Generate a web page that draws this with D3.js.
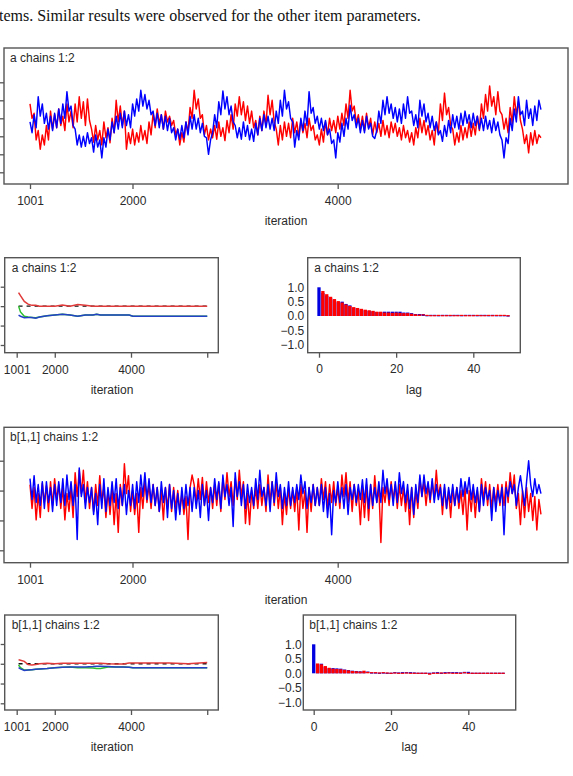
<!DOCTYPE html>
<html><head><meta charset="utf-8">
<script src="https://cdn.jsdelivr.net/npm/d3@7"></script>
<style>body{margin:0;background:#fff;}svg{display:block;}</style>
</head><body>
<svg id="c" width="573" height="776"></svg>
<script>
// ---------------- DATA ----------------
const introText = "tems. Similar results were observed for the other item parameters.";
const parA = "a chains 1:2";
const parB = "b[1,1] chains 1:2";
const traceStart = 1001, traceStep = 20;   // sampled iteration of each stored trace value

const aRed = [
1.45,1.25,1.32,0.95,1.08,0.82,1.02,0.88,1.15,0.95, 1.35,1.10,1.30,1.12,1.38,1.15,1.28,1.08,1.45,1.20,
1.35,1.12,1.45,1.20,1.55,1.25,1.48,1.15,1.52,1.22, 1.10,0.92,1.15,0.95,1.08,0.88,1.20,0.98,1.12,0.91,
1.25,1.05,1.50,1.20,1.42,1.15,1.35,0.82,1.05,0.90, 1.10,0.88,1.05,0.92,1.15,0.95,1.08,0.90,1.20,1.02,
1.32,1.12,1.38,1.18,1.30,1.10,1.35,1.20,1.28,1.15, 1.22,1.02,1.10,0.88,1.05,0.92,1.20,1.05,1.40,1.25,
1.64,1.38,1.52,1.25,1.30,1.02,1.15,0.95,1.10,0.98, 1.15,0.96,1.20,1.00,1.12,0.94,1.22,1.05,1.30,1.10,
1.45,1.28,1.55,1.30,1.48,1.22,1.42,1.18,1.35,1.12, 1.22,1.02,1.28,1.08,1.35,1.15,1.57,1.30,1.50,1.20,
1.10,0.88,1.15,0.95,1.20,1.00,1.18,0.98,1.25,1.05, 1.20,1.00,1.22,1.05,1.18,0.98,1.25,1.08,1.15,0.95,
1.02,0.88,1.10,0.92,1.20,1.02,1.25,1.08,1.22,1.05, 1.28,1.10,1.32,1.15,1.45,1.25,1.64,1.35,1.42,1.18,
1.30,1.10,1.28,1.08,1.32,1.12,1.25,1.02,1.20,1.05, 1.18,1.00,1.22,1.02,1.15,0.98,1.20,1.05,1.18,1.00,
1.12,0.95,1.15,0.98,1.08,0.92,1.05,0.88,1.12,0.98, 1.25,1.05,1.22,1.02,1.15,0.95,1.08,0.88,1.20,1.05,
1.45,1.22,1.60,1.30,1.40,1.15,1.10,0.88,1.05,0.92, 1.15,0.95,1.12,0.98,1.20,1.00,1.18,1.02,1.28,1.08,
1.45,1.25,1.58,1.35,1.70,1.42,1.55,1.30,1.62,1.35, 1.30,1.10,1.25,1.05,1.40,1.18,1.55,1.30,1.48,1.22,
1.10,0.90,1.02,0.77,1.05,0.88,1.08,0.90,1.02,0.98];
const aBlue = [
1.20,1.05,1.30,1.12,1.55,1.28,1.45,1.18,1.32,1.10, 1.28,1.08,1.32,1.12,1.38,1.18,1.45,1.25,1.62,1.35,
1.42,1.15,1.10,0.88,1.02,0.85,1.00,0.86,1.05,0.90, 0.98,0.78,1.02,0.85,0.95,0.70,0.98,0.85,1.10,0.95,
1.20,1.05,1.28,1.10,1.32,1.12,1.35,1.15,1.30,1.12, 1.45,1.28,1.52,1.35,1.64,1.42,1.58,1.38,1.50,1.30,
1.35,1.15,1.32,1.12,1.30,1.10,1.28,1.08,1.25,1.05, 1.12,0.95,1.10,0.96,1.15,0.98,1.20,1.02,1.28,1.10,
1.30,1.10,1.25,1.05,1.18,1.00,0.98,0.75,0.95,1.05, 1.30,1.12,1.48,1.30,1.63,1.38,1.55,1.30,1.42,1.20,
1.15,0.98,1.12,0.96,1.20,1.00,1.15,0.95,1.10,0.93, 1.18,1.02,1.25,1.08,1.30,1.12,1.28,1.10,1.25,1.08,
1.35,1.18,1.50,1.28,1.64,1.38,1.48,1.25,1.20,0.85, 1.08,0.95,1.25,1.08,1.35,1.15,1.62,1.32,1.40,1.18,
1.28,1.10,1.25,1.08,1.22,1.02,1.10,0.90,0.95,0.70, 1.05,0.92,1.18,1.00,1.25,1.10,1.43,1.22,1.30,1.12,
1.25,1.05,1.22,1.05,1.28,1.10,1.18,1.00,0.97,1.08, 1.35,1.18,1.50,1.30,1.55,1.32,1.45,1.25,1.40,1.20,
1.38,1.18,1.45,1.25,1.55,1.32,1.35,1.15,1.30,1.12, 1.50,1.28,1.45,1.20,1.32,1.12,1.28,1.08,1.20,1.02,
1.08,0.93,1.15,1.00,1.22,1.05,1.30,1.12,1.28,1.10, 1.32,1.15,1.35,1.18,1.30,1.12,1.32,1.15,1.28,1.10,
1.25,1.08,1.28,1.10,1.22,1.05,1.25,1.08,1.20,1.02, 0.95,0.70,0.98,0.90,1.25,1.08,1.38,1.20,1.55,1.30,
1.35,1.15,1.50,1.25,1.38,1.15,1.42,1.22,1.50,1.37];
const bRed = [
0.10,-0.30,0.05,-0.49,-0.05,-0.45,0.12,-0.20,0.08,-0.35, 0.15,-0.25,0.20,-0.15,0.10,-0.30,0.05,-0.49,-0.05,-0.35,
0.05,-0.45,0.30,-0.10,0.34,-0.05,0.34,-0.20,0.15,-0.30, 0.05,-0.35,0.10,-0.25,0.25,-0.20,0.05,-0.45,0.00,-0.40,
0.05,-0.57,-0.05,-0.70,0.10,-0.25,0.45,-0.05,0.25,-0.35, 0.00,-0.40,-0.05,-0.70,0.05,-0.30,0.15,-0.20,0.10,-0.30,
0.10,-0.25,0.05,-0.35,0.00,-0.49,0.05,-0.30,0.10,-0.35, 0.05,-0.30,0.00,-0.35,-0.05,-0.40,-0.10,-0.82,0.05,0.26,
0.10,-0.20,0.20,-0.15,0.22,-0.25,0.15,-0.20,0.05,-0.30, 0.10,-0.25,0.12,-0.35,0.20,-0.15,0.30,-0.10,0.15,-0.25,
0.20,-0.15,0.34,-0.10,0.15,-0.55,-0.05,-0.57,0.00,-0.30, 0.05,-0.30,0.10,-0.25,0.05,-0.35,0.26,-0.20,0.15,-0.25,
0.15,-0.30,0.05,-0.57,-0.05,-0.40,0.05,-0.30,0.00,-0.35, 0.05,-0.66,0.10,-0.30,0.00,-0.70,0.05,-0.35,0.10,-0.25,
0.05,-0.25,0.20,-0.15,0.15,-0.30,0.10,-0.20,0.15,-0.25, 0.05,-0.30,0.26,-0.10,0.30,-0.20,0.15,-0.35,0.10,-0.25,
0.00,-0.57,0.05,-0.45,0.10,-0.50,0.10,-0.30,0.25,-0.20, 0.05,-0.87,0.05,-0.20,0.10,-0.25,0.15,-0.15,0.10,-0.30,
0.10,-0.25,0.05,-0.35,0.00,-0.57,0.05,-0.45,0.00,-0.30, 0.20,-0.10,0.15,-0.25,0.10,-0.20,0.15,-0.15,0.34,-0.10,
0.10,-0.40,0.05,-0.30,0.00,-0.45,0.05,-0.25,0.05,-0.30, 0.00,-0.40,0.05,-0.66,0.00,-0.35,0.05,-0.45,0.00,-0.35,
0.20,-0.15,0.15,-0.25,0.10,-0.30,0.05,-0.20,0.10,-0.25, 0.10,-0.25,0.15,-0.20,0.30,-0.05,0.26,-0.30,-0.05,-0.57,
0.00,-0.45,0.05,-0.35,-0.05,-0.50,-0.10,-0.66,-0.15,-0.40];
const bBlue = [
0.20,-0.15,0.25,-0.20,0.10,-0.25,0.15,-0.30,0.15,-0.20, 0.05,-0.35,0.10,-0.25,0.15,-0.20,0.20,-0.25,0.26,-0.15,
0.15,-0.25,0.10,-0.82,0.38,-0.10,0.10,-0.30,0.05,-0.20, 0.05,-0.40,-0.05,-0.57,0.10,-0.30,0.20,-0.35,0.05,-0.25,
0.15,-0.20,0.20,-0.30,0.05,-0.25,0.10,-0.40,0.00,-0.25, 0.10,-0.30,0.15,-0.20,0.26,-0.10,0.30,-0.15,0.20,-0.20,
0.10,-0.25,0.05,-0.35,0.15,-0.20,0.05,-0.45,0.10,-0.30, 0.00,-0.49,-0.05,-0.40,0.05,-0.30,0.10,-0.25,0.05,-0.35,
0.05,-0.30,0.00,-0.45,0.10,-0.25,0.00,-0.50,0.05,-0.20, 0.20,-0.15,0.15,-0.30,0.26,-0.10,0.10,-0.25,0.05,-0.60,
0.30,-0.10,0.15,-0.25,0.10,-0.30,0.10,-0.20,0.05,-0.25, 0.20,-0.15,0.34,-0.10,0.05,-0.25,0.10,-0.35,0.15,-0.20,
0.30,-0.10,0.10,-0.30,0.05,-0.25,0.15,-0.25,0.05,-0.20, 0.10,-0.15,0.26,-0.05,0.15,-0.30,0.05,-0.20,0.10,-0.25,
0.05,-0.25,0.10,-0.35,0.05,-0.45,-0.05,-0.74,0.00,-0.20, 0.15,-0.20,0.05,-0.30,0.10,-0.40,0.05,-0.15,0.10,-0.20,
0.10,-0.15,0.18,-0.20,0.20,-0.30,0.10,-0.25,0.05,-0.20, 0.15,-0.20,0.34,-0.05,0.20,-0.15,0.10,-0.25,0.15,-0.20,
0.30,-0.05,0.15,-0.20,0.10,-0.30,0.05,-0.40,0.10,-0.20, 0.26,-0.10,0.26,-0.05,0.15,-0.15,0.20,-0.20,0.10,-0.15,
0.05,-0.25,0.10,-0.30,0.05,-0.20,0.10,-0.25,0.05,-0.20, 0.20,-0.10,0.15,-0.05,0.22,-0.15,0.10,-0.20,0.05,-0.35,
0.10,-0.25,0.05,-0.15,0.00,-0.50,0.05,-0.35,0.00,-0.20, 0.05,-0.74,0.05,-0.10,0.15,-0.05,0.10,-0.25,0.05,0.25,
0.00,-0.25,0.15,0.50,0.10,-0.10,0.20,-0.05,0.10,-0.05];

// Brooks-Gelman-Rubin statistics
const bgrIter = [1050,1100,1200,1300,1400,1500,1600,1800,2000,2200,2400,2600,2800,3000,3100,3200,3400,3600,3800,3950,4050,4500,5000,5500,6000];
const bgrARed   = [1.35,1.27,1.12,1.05,1.02,1.02,1.00,1.00,1.00,1.03,1.00,1.04,1.02,1.00,1.00,1.00,1.00,1.00,1.00,1.00,1.00,1.00,1.00,1.00,1.00];
const bgrAGreen = [1.00,0.85,0.74,0.72,0.71,0.70,0.72,0.75,0.77,0.79,0.77,0.74,0.77,0.77,0.79,0.77,0.77,0.77,0.77,0.77,0.74,0.74,0.74,0.74,0.74];
const bgrABlue  = [0.77,0.74,0.70,0.71,0.71,0.69,0.72,0.75,0.77,0.79,0.77,0.74,0.77,0.77,0.79,0.77,0.77,0.77,0.77,0.77,0.74,0.74,0.74,0.74,0.74];
const bgrBRed   = [1.10,1.09,1.06,0.98,0.97,0.98,1.00,1.01,1.00,1.015,1.01,1.01,1.01,1.01,1.01,1.01,1.00,0.995,0.995,1.02,1.02,1.02,1.02,1.00,1.03];
const bgrBGreen = [0.97,0.90,0.84,0.84,0.85,0.86,0.87,0.88,0.90,0.91,0.92,0.90,0.90,0.89,0.88,0.88,0.92,0.92,0.92,0.91,0.90,0.90,0.90,0.90,0.90];
const bgrBBlue  = [0.90,0.87,0.83,0.84,0.85,0.86,0.87,0.88,0.90,0.91,0.92,0.92,0.92,0.93,0.94,0.94,0.93,0.92,0.92,0.91,0.90,0.90,0.90,0.90,0.90];
const bgrRef = 1.0;

// Autocorrelations: blue chain lags 0..49, red chain lags 1..49
const acfABlue = [1.00,
 0.80,0.70,0.62,0.55,0.48,0.50,0.42,0.37,0.28,0.25,0.22,0.20,0.18,0.16,0.14,0.13,
 0.15,0.15,0.15,0.15,0.15,0.12,0.12,0.10,0.07,0.07,0.07,
 0.01,0.02,0.02,0.01,0.02,0.02,0.01,0.02,0.02,0.01,0.02,0.02,0.02,0.01,0.02,0.02,0.01,0.02,0.01,0.01,0.01,0.00];
const acfARed = [
 0.87,0.76,0.67,0.59,0.52,0.47,0.40,0.35,0.31,0.28,0.25,0.22,0.20,0.18,0.15,0.15,
 0.12,0.12,0.11,0.12,0.11,0.10,0.10,0.08,0.06,0.05,0.04,
 0.02,0.01,0.01,0.02,0.01,0.01,0.02,0.01,0.01,0.02,0.01,0.01,0.01,0.02,0.01,0.01,0.02,0.01,0.02,0.02,0.02,0.01];
const acfBBlue = [1.00,
 0.30,0.33,0.22,0.17,0.18,0.17,0.16,0.13,0.11,0.09,0.08,0.07,0.06,0.04,
 0.01,0.01,0.00,0.01,0.00,
 0.00,0.02,0.01,0.02,0.02,0.02,0.01,
 -0.01,-0.02,-0.02,-0.03,0.01,
 0.02,-0.01,0.02,0.02,0.02,0.02,0.01,
 0.05,0.03,-0.01,-0.01,-0.02,-0.01,-0.01,0.00,-0.01,0.00,0.00];
const acfBRed = [
 0.34,0.31,0.25,0.19,0.16,0.15,0.14,0.12,0.10,0.08,0.07,0.06,0.09,0.05,
 0.02,0.02,0.01,0.02,0.01,
 0.00,0.01,0.00,0.00,0.01,0.00,0.00,
 -0.02,-0.03,-0.04,-0.05,-0.03,
 -0.02,0.01,-0.02,0.01,-0.01,0.00,-0.02,
 0.02,-0.02,-0.03,-0.02,-0.04,-0.03,-0.02,-0.01,-0.02,-0.02,0.00];

const iterTicks = [1001, 2000, 4000];
const bgrTicks = [1001, 2000, 4000, 6000];
const bgrTickLabels = ["1001", "2000", "4000", ""];
const traceAYTicks = [0.5, 0.75, 1.0, 1.25, 1.5, 1.75];
const traceBYTicks = [-1.0, -0.5, 0.0, 0.5];
const bgrYTicks = [0.0, 0.5, 1.0, 1.5];
const acfYTicks = [-1.0, -0.5, 0.0, 0.5, 1.0];
const lagTicks = [0, 20, 40];

// ---------------- DRAWING ----------------
const svg = d3.select("#c");
const FONT = "'Liberation Sans', Arial, Helvetica, sans-serif";
const BOX = "#555";
const TXT = "#2a2a2a";
const f1 = d3.format(".1f");

svg.append("text").attr("x", -1).attr("y", 21)
  .attr("font-family", "'Liberation Serif','Times New Roman',serif").attr("font-size", 16)
  .attr("fill", "#111").text(introText);

function box(g, x0, y0, x1, y1) {
  g.append("rect").attr("x", x0).attr("y", y0).attr("width", x1 - x0).attr("height", y1 - y0)
    .attr("fill", "none").attr("stroke", BOX).attr("stroke-width", 1.4);
}
function styleAxis(sel) {
  sel.select(".domain").remove();
  sel.selectAll("line").attr("stroke", BOX).attr("stroke-width", 1.3);
  sel.selectAll("text").attr("font-family", FONT).attr("font-size", 12).attr("fill", TXT);
}
function label(g, x, y, txt, anchor) {
  g.append("text").attr("x", x).attr("y", y).attr("text-anchor", anchor || "middle")
    .attr("font-family", FONT).attr("font-size", 12).attr("fill", TXT).text(txt);
}

// ----- trace panels -----
function tracePanel(p) {
  const g = svg.append("g");
  const x = d3.scaleLinear().domain([1001, 4000]).range([30, 337.7]);
  const y = d3.scaleLinear().domain(p.yDomain).range(p.yRange);
  const line = d3.line().x((d, i) => x(traceStart + i * traceStep)).y(d => y(d));
  g.append("path").datum(p.red).attr("d", line).attr("fill", "none").attr("stroke", "#ff0000").attr("stroke-width", 1.45).attr("stroke-linejoin", "round");
  g.append("path").datum(p.blue).attr("d", line).attr("fill", "none").attr("stroke", "#0000ff").attr("stroke-width", 1.45).attr("stroke-linejoin", "round");
  box(g, 4, p.top, 568, p.bottom);
  g.append("g").attr("transform", `translate(0,${p.bottom})`)
    .call(d3.axisBottom(x).tickValues(iterTicks).tickSize(5).tickPadding(7.5).tickFormat(d3.format("d"))).call(styleAxis);
  g.append("g").attr("transform", "translate(4,0)")
    .call(d3.axisLeft(y).tickValues(p.yTicks).tickSize(4).tickPadding(1.5).tickFormat(p.yFmt)).call(styleAxis);
  label(g, 10, p.top + 14, p.title, "start");
  label(g, 286, p.bottom + 41, "iteration");
}
tracePanel({red: aRed, blue: aBlue, top: 48, bottom: 184, yDomain: [0.5, 1.75], yRange: [172.3, 82.3],
  yTicks: traceAYTicks, yFmt: d3.format(".2~f"), title: parA});
tracePanel({red: bRed, blue: bBlue, top: 427.3, bottom: 562.7, yDomain: [-1.0, 0.5], yRange: [550.3, 460.7],
  yTicks: traceBYTicks, yFmt: f1, title: parB});

// ----- BGR panels -----
function bgrPanel(p) {
  const g = svg.append("g");
  const x = d3.scaleLinear().domain([1001, 4000]).range([16.7, 131]);
  const y = d3.scaleLinear().domain([0, 1.5]).range(p.yRange);
  const line = d3.line().x((d, i) => x(bgrIter[i])).y(d => y(d));
  g.append("line").attr("x1", x(bgrIter[0])).attr("x2", x(bgrIter[bgrIter.length - 1]))
    .attr("y1", y(bgrRef)).attr("y2", y(bgrRef)).attr("stroke", "#111").attr("stroke-width", 1.3).attr("stroke-dasharray", "4,4");
  g.append("path").datum(p.red).attr("d", line).attr("fill", "none").attr("stroke", "#e03a3a").attr("stroke-width", 1.5);
  g.append("path").datum(p.green).attr("d", line).attr("fill", "none").attr("stroke", "#2fc02f").attr("stroke-width", 1.5);
  g.append("path").datum(p.blue).attr("d", line).attr("fill", "none").attr("stroke", "#2440c8").attr("stroke-width", 1.5);
  box(g, 4.7, p.top, 218.3, p.bottom);
  g.append("g").attr("transform", `translate(0,${p.bottom})`)
    .call(d3.axisBottom(x).tickValues(bgrTicks).tickSize(5).tickPadding(7.5).tickFormat((d, i) => bgrTickLabels[i])).call(styleAxis);
  g.append("g").attr("transform", "translate(4.7,0)")
    .call(d3.axisLeft(y).tickValues(bgrYTicks).tickSize(4).tickPadding(1.5).tickFormat(f1)).call(styleAxis);
  label(g, 11.7, p.titleY, p.title, "start");
  label(g, 112, p.bottom + 41, "iteration");
}
bgrPanel({red: bgrARed, green: bgrAGreen, blue: bgrABlue, top: 257.7, bottom: 352.7, yRange: [345, 286.7], titleY: 271.5, title: parA});
bgrPanel({red: bgrBRed, green: bgrBGreen, blue: bgrBBlue, top: 615, bottom: 710, yRange: [703.3, 644], titleY: 628.7, title: parB});

// ----- ACF panels -----
function acfPanel(p) {
  const g = svg.append("g");
  const x = d3.scaleLinear().domain([0, 40]).range(p.xRange);
  const y = d3.scaleLinear().domain([-1, 1]).range(p.yRange);
  const bw = 3.3;
  const bar = (sel, color) => sel.attr("x", d => x(d.lag) - bw / 2).attr("width", bw)
    .attr("y", d => Math.min(y(d.v), y(0)) - (Math.abs(y(d.v) - y(0)) < 1.2 ? 0.6 : 0))
    .attr("height", d => Math.max(Math.abs(y(d.v) - y(0)), 1.2)).attr("fill", color);
  g.selectAll(".bb").data(p.blue.map((v, i) => ({lag: i, v}))).enter().append("rect").call(bar, "#0000e0");
  g.selectAll(".rb").data(p.red.map((v, i) => ({lag: i + 1, v}))).enter().append("rect").call(bar, "#ff0000");
  box(g, p.left, p.top, p.right, p.bottom);
  g.append("g").attr("transform", `translate(0,${p.bottom})`)
    .call(d3.axisBottom(x).tickValues(lagTicks).tickSize(5).tickPadding(7).tickFormat(d3.format("d"))).call(styleAxis);
  g.append("g").attr("transform", `translate(${p.left},0)`)
    .call(d3.axisLeft(y).tickValues(acfYTicks).tickSize(0).tickPadding(p.pad).tickFormat(f1)).call(styleAxis);
  label(g, p.titleX, p.titleY, p.title, "start");
  label(g, (p.left + p.right) / 2, p.bottom + 41, "lag");
}
acfPanel({blue: acfABlue, red: acfARed, left: 307.7, right: 520.3, top: 257.7, bottom: 352.7,
  xRange: [319, 473.3], yRange: [344.7, 287.3], pad: 3.5, titleX: 314.3, titleY: 271.5, title: parA});
acfPanel({blue: acfBBlue, red: acfBRed, left: 303.3, right: 515.7, top: 615, bottom: 710,
  xRange: [313.7, 468.3], yRange: [702.3, 644.3], pad: 1.5, titleX: 309.3, titleY: 628.7, title: parB});
</script>
</body></html>
